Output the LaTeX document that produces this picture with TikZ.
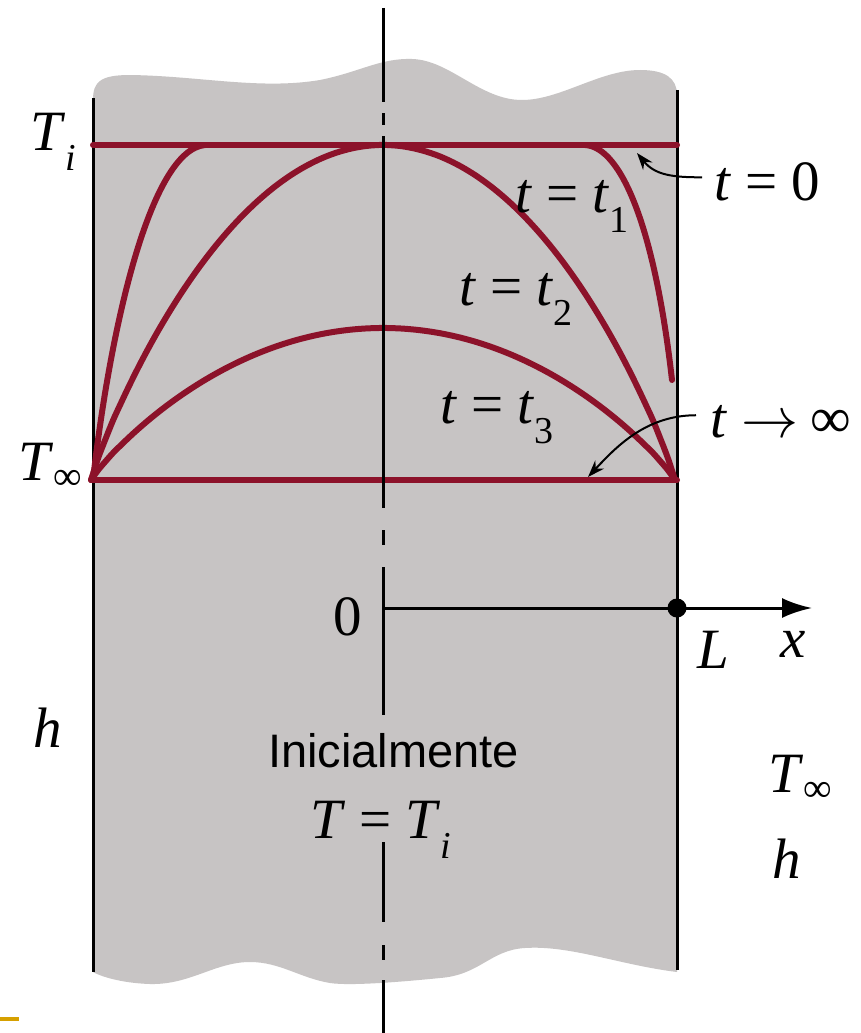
\RequirePackage{fix-cm}
\documentclass[tikz,border=0pt]{standalone}
\usepackage{fontspec}
\setmainfont{Liberation Serif}
\newfontfamily\labelsans{Liberation Sans}
\usetikzlibrary{arrows.meta}
\definecolor{slabgray}{RGB}{199,196,196}
\definecolor{curvered}{RGB}{140,18,42}
\definecolor{barorange}{RGB}{214,160,0}
\newcommand{\mainsz}{\fontsize{57}{60}\selectfont}
\newcommand{\lowsub}[1]{\raisebox{-20pt}{\fontsize{38}{38}\selectfont #1}}
\newcommand{\infsub}{\raisebox{-9pt}{\fontsize{40}{40}\selectfont ∞}}
\begin{document}
\begin{tikzpicture}[x=1pt,y=-1pt,
  wall/.style={line width=3pt,black},
  profile/.style={curvered,line width=6pt,line cap=round,line join=round},
  midline/.style={line width=3pt,black},
  lbl/.style={inner sep=0pt,anchor=base west,font=\mainsz},
  pointer/.style={line width=2pt,-{Stealth[length=17pt,width=12pt]}},
  axisline/.style={line width=3pt,-{Latex[length=30pt,width=20pt]}}]
\useasboundingbox (0,0) rectangle (861,1033);
\fill[white] (0,0) rectangle (861,1033);
% slab
\fill[slabgray] (93,972) -- (93,100) .. controls (93,82) and (100,75) .. (130,75)
  .. controls (200,76) and (260,90) .. (320,80)
  .. controls (360,72) and (380,58) .. (412,59)
  .. controls (450,60) and (480,100) .. (522,100)
  .. controls (560,100) and (600,70) .. (640,70)
  .. controls (665,70) and (677,78) .. (677,95)
  -- (677,972)
  .. controls (620,965) and (570,945) .. (525,948)
  .. controls (490,950) and (480,975) .. (440,978)
  .. controls (400,982) and (350,986) .. (330,983)
  .. controls (300,978) and (280,962) .. (250,962)
  .. controls (215,962) and (190,985) .. (150,984)
  .. controls (120,983) and (100,976) .. (93,972) -- cycle;
% walls
\draw[wall] (93,98) -- (93,972);
\draw[wall] (677,90) -- (677,970);
% profiles
\draw[profile] (93,145) -- (677,145);
\draw[profile] (93,480) -- (677,480);
\draw[profile] (93,480) .. controls (110,330) and (150,150) .. (205,145);
\draw[profile] (585,145) .. controls (622,147) and (655,230) .. (672,380);
\draw[profile] plot[domain=-1:1,samples=80,smooth] ({383+292*\x},{480-335*pow(max(1-\x*\x,0.00001),0.9)});
\draw[profile] plot[domain=-1:1,samples=80,smooth] ({383+292*\x},{480-152*pow(max(1-\x*\x,0.00001),0.9)});
% center line
\draw[midline] (383,8) -- (383,102);
\draw[midline] (383,113) -- (383,125);
\draw[midline] (383,136) -- (383,508);
\draw[midline] (383,530) -- (383,545);
\draw[midline] (383,567) -- (383,715);
\draw[midline] (383,842) -- (383,922);
\draw[midline] (383,945) -- (383,960);
\draw[midline] (383,980) -- (383,1033);
% x axis
\coordinate (origin) at (383,608);
\coordinate (xtip) at (812,608);
\draw[axisline] (origin) -- (xtip);
\node[circle,fill=black,inner sep=0pt,minimum size=19pt] (Ldot) at (677,608) {};
% orange bar
\fill[barorange] (0,1017) rectangle (19,1021);
% labels
\node[lbl] (Tileft) at (30,150) {\textit{T}\lowsub{\textit{i}}};
\node[lbl] (Tinfleft) at (18,480) {\textit{T}\infsub};
\node[lbl] (tzero) at (714,200) {\textit{t} = 0};
\node[lbl] (tone) at (515,212) {\textit{t} = \textit{t}\lowsub{1}};
\node[lbl] (ttwo) at (459,305) {\textit{t} = \textit{t}\lowsub{2}};
\node[lbl] (tthree) at (440,423) {\textit{t} = \textit{t}\lowsub{3}};
\node[lbl] (tinf) at (710,437) {\textit{t}\hspace{14pt}$\rightarrow$\hspace{12pt}∞};
\node[lbl] (zero) at (333,635) {0};
\node[lbl] (Llab) at (697,668) {\textit{L}};
\node[lbl] (xlab) at (780,657) {\textit{x}};
\node[lbl] (hleft) at (33,747) {\textit{h}};
\node[inner sep=0pt,anchor=base west,font={\labelsans\fontsize{47}{50}\selectfont}] (init) at (268,767) {Inicialmente};
\node[lbl] (TeqTi) at (310,838) {\textit{T} = \textit{T}\lowsub{\textit{i}}};
\node[lbl] (Tinfright) at (768,792) {\textit{T}\infsub};
\node[lbl] (hright) at (772,878) {\textit{h}};
% pointers
\coordinate (tzerotip) at (637,153);
\coordinate (tinftip) at (588,477);
\draw[pointer] ([xshift=-12pt,yshift=4pt]tzero.west) .. controls +(-30,0) and +(18,22) .. (tzerotip);
\draw[pointer] ([xshift=-14pt,yshift=6pt]tinf.west) .. controls +(-50,0) and +(28,-30) .. (tinftip);
\end{tikzpicture}
\end{document}
